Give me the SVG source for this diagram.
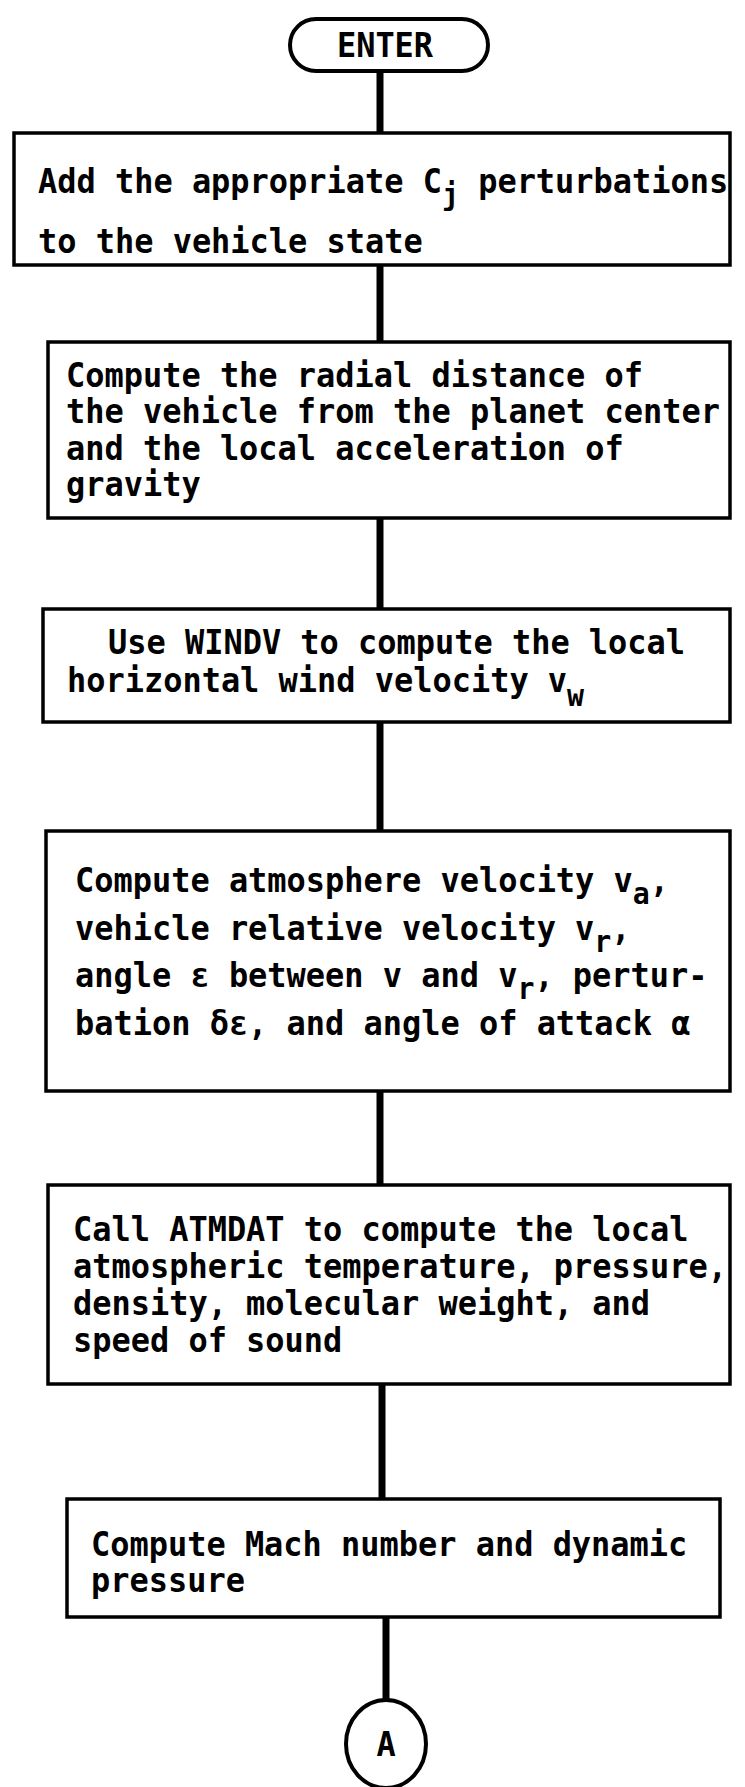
<svg xmlns="http://www.w3.org/2000/svg" width="745" height="1787" viewBox="0 0 745 1787">
  <style>
    .box { fill: #fff; stroke: #000; stroke-width: 3.5; }
    .term { fill: #fff; stroke: #000; stroke-width: 4; }
    .wire { stroke: #000; stroke-width: 7; fill: none; }
    .t { font-family: "DejaVu Sans Mono", "Liberation Mono", monospace; font-size: 34px; font-weight: bold; fill: #000; }
    .sub { font-size: 30px; }
  </style>
  <rect width="745" height="1787" fill="#fff"/>

  <!-- connectors -->
  <g id="connectors">
    <line class="wire" x1="380" y1="71" x2="380" y2="133"/>
    <line class="wire" x1="380" y1="265" x2="380" y2="342"/>
    <line class="wire" x1="380" y1="518" x2="380" y2="609"/>
    <line class="wire" x1="380" y1="722" x2="380" y2="831"/>
    <line class="wire" x1="380" y1="1091" x2="380" y2="1185"/>
    <line class="wire" x1="382" y1="1384" x2="382" y2="1499"/>
    <line class="wire" x1="386" y1="1617" x2="386" y2="1700"/>
  </g>

  <!-- start terminal -->
  <g id="enter">
    <rect class="term" x="290" y="19" width="198" height="52" rx="26" ry="26"/>
    <text class="t" transform="translate(385 57) scale(0.94 1)" text-anchor="middle">ENTER</text>
  </g>

  <!-- step 1 -->
  <g id="add-perturbations">
    <rect class="box" x="14" y="133" width="716" height="132"/>
    <text class="t" transform="translate(38 193) scale(0.94 1)">Add the appropriate C<tspan class="sub" dy="12">j</tspan><tspan dy="-12"> perturbations</tspan></text>
    <text class="t" transform="translate(38 253) scale(0.94 1)">to the vehicle state</text>
  </g>

  <!-- step 2 -->
  <g id="radial-distance">
    <rect class="box" x="48" y="342" width="682" height="176"/>
    <text class="t" transform="translate(66 387) scale(0.94 1)">Compute the radial distance of</text>
    <text class="t" transform="translate(66 423) scale(0.94 1)">the vehicle from the planet center</text>
    <text class="t" transform="translate(66 460) scale(0.94 1)">and the local acceleration of</text>
    <text class="t" transform="translate(66 496) scale(0.94 1)">gravity</text>
  </g>

  <!-- step 3 -->
  <g id="windv">
    <rect class="box" x="43" y="609" width="687" height="113"/>
    <text class="t" transform="translate(108 654) scale(0.94 1)">Use WINDV to compute the local</text>
    <text class="t" transform="translate(67 692) scale(0.94 1)">horizontal wind velocity v<tspan class="sub" dy="14">w</tspan></text>
  </g>

  <!-- step 4 -->
  <g id="relative-velocity">
    <rect class="box" x="46" y="831" width="684" height="260"/>
    <text class="t" transform="translate(75 892) scale(0.94 1)">Compute atmosphere velocity v<tspan class="sub" dy="12">a</tspan><tspan dy="-12">,</tspan></text>
    <text class="t" transform="translate(75 940) scale(0.94 1)">vehicle relative velocity v<tspan class="sub" dy="12">r</tspan><tspan dy="-12">,</tspan></text>
    <text class="t" transform="translate(75 987) scale(0.94 1)">angle ε between v and v<tspan class="sub" dy="12">r</tspan><tspan dy="-12">, pertur-</tspan></text>
    <text class="t" transform="translate(75 1035) scale(0.94 1)">bation δε, and angle of attack α</text>
  </g>

  <!-- step 5 -->
  <g id="atmdat">
    <rect class="box" x="48" y="1185" width="682" height="199"/>
    <text class="t" transform="translate(73 1241) scale(0.94 1)">Call ATMDAT to compute the local</text>
    <text class="t" transform="translate(73 1278) scale(0.94 1)">atmospheric temperature, pressure,</text>
    <text class="t" transform="translate(73 1315) scale(0.94 1)">density, molecular weight, and</text>
    <text class="t" transform="translate(73 1352) scale(0.94 1)">speed of sound</text>
  </g>

  <!-- step 6 -->
  <g id="mach">
    <rect class="box" x="67" y="1499" width="653" height="118"/>
    <text class="t" transform="translate(91 1556) scale(0.94 1)">Compute Mach number and dynamic</text>
    <text class="t" transform="translate(91 1592) scale(0.94 1)">pressure</text>
  </g>

  <!-- off-page connector -->
  <g id="connector-a">
    <ellipse class="term" cx="386" cy="1744" rx="40" ry="44"/>
    <text class="t" transform="translate(386 1756) scale(0.94 1)" text-anchor="middle">A</text>
  </g>
</svg>
